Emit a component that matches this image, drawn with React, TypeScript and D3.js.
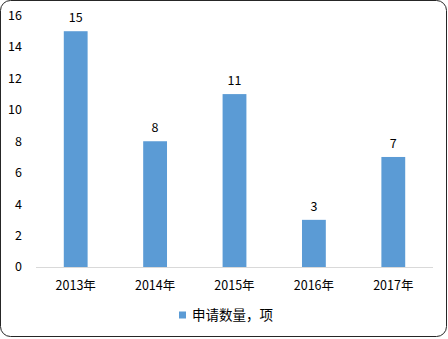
import React from "react";
import * as d3 from "d3";

const categories = ["2013年", "2014年", "2015年", "2016年", "2017年"];
const values = [15, 8, 11, 3, 7];
const yTicks = [0, 2, 4, 6, 8, 10, 12, 14, 16];
const seriesName = "申请数量，项";

const W = 448;
const H = 339;
const FONT = "'Noto Sans CJK SC', 'Liberation Sans', sans-serif";

export default function App() {
  const x = d3.scaleBand<string>().domain(categories).range([36, 433]).paddingInner(0.7).paddingOuter(0.35);
  const y = d3.scaleLinear().domain([0, 16]).range([267, 15.5]);
  const color = "#5b9bd5";
  return (
    <svg width={W} height={H} style={{ position: "absolute", left: 0, top: 0 }} fontFamily={FONT}>
      <rect x={0.5} y={0.5} width={446} height={336} rx={10} ry={10} fill="#fff" stroke="#262626" strokeWidth={1} />
      {yTicks.map((t) => (
        <text key={t} x={22} y={y(t)} dy="0.35em" textAnchor="end" fontSize={12.5} fill="#000">
          {t}
        </text>
      ))}
      {categories.map((c, i) => (
        <g key={c}>
          <rect x={x(c)!} y={y(values[i])} width={x.bandwidth()} height={y(0) - y(values[i])} fill={color} />
          <text x={x(c)! + x.bandwidth() / 2} y={y(values[i]) - 9} textAnchor="middle" fontSize={12.5} fill="#000">
            {values[i]}
          </text>
          <text x={x(c)! + x.bandwidth() / 2} y={286} dy="0.35em" textAnchor="middle" fontSize={12.5} fill="#000">
            {c}
          </text>
        </g>
      ))}
      <line x1={36} x2={433} y1={y(0) + 0.5} y2={y(0) + 0.5} stroke="#d9d9d9" strokeWidth={1} />
      <rect x={179} y={311.5} width={7} height={7} fill={color} />
      <text x={192} y={315} dy="0.35em" fontSize={13.5} fill="#000">
        {seriesName}
      </text>
    </svg>
  );
}
